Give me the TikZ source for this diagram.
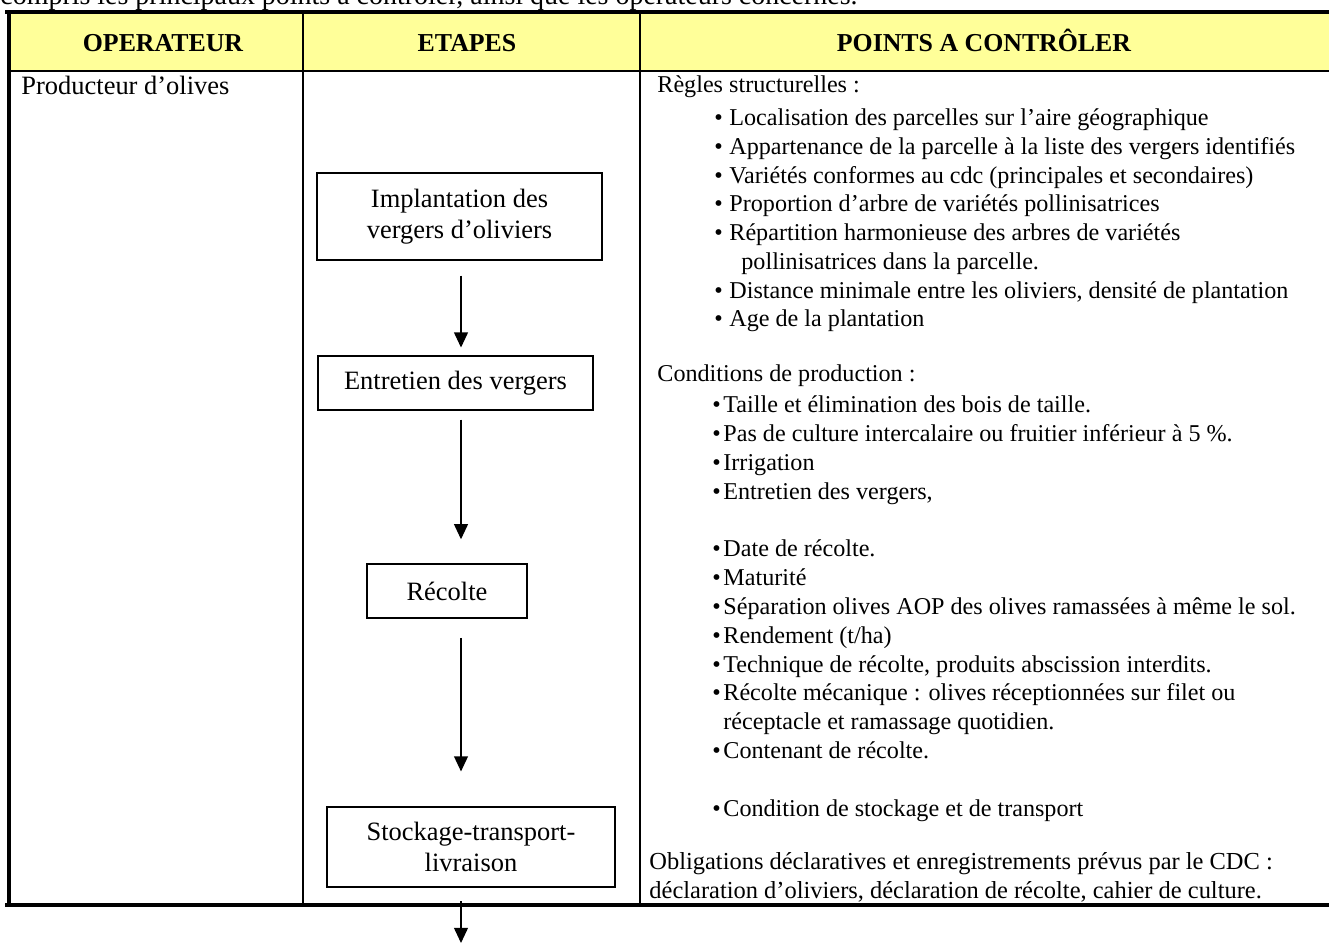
\documentclass[tikz,border=0pt]{standalone}
\usepackage{fontspec}
\setmainfont{Liberation Serif}
\usetikzlibrary{arrows.meta}
\definecolor{entete}{HTML}{FFFF99}
\newlength{\pxu}
\setlength{\pxu}{0.0166cm}
\newcommand{\puce}[1]{\makebox[#1][l]{\textbullet}}

\begin{document}
\begin{tikzpicture}[x=0.0166cm, y=-0.0166cm,
    etape/.style={draw, line width=0.6pt, align=center, inner sep=0pt,
      font=\fontsize{12.5}{14.6}\selectfont},
    fleche/.style={-{Triangle[length=0.25cm, width=0.23cm]}, line width=0.6pt},
    texte/.style={anchor=base west, inner sep=0pt, align=left,
      font=\fontsize{11.4}{13.6}\selectfont},
    titre/.style={anchor=base, inner sep=0pt, font=\bfseries\fontsize{12.2}{14}\selectfont}]
    \useasboundingbox (0,0) rectangle (1329,945);

    \node[anchor=base west, inner sep=0pt, font=\fontsize{13.2}{14}\selectfont] (intro) at (0,5)
      {compris les principaux points à contrôler, ainsi que les opérateurs concernés.};

    % tableau
    \fill[entete] (9,12) rectangle (1329,71);
    \draw[line width=0.8pt] (303,12) -- (303,905) (640,12) -- (640,905);
    \draw[line width=1.2pt] (9,71) -- (1329,71);
    \draw[line width=1.6pt] (5,12) -- (1329,12) (9,12) -- (9,905) (5,905) -- (1329,905);

    \node[titre] (operateur) at (163,52) {OPERATEUR};
    \node[titre] (etapes) at (467,52) {ETAPES};
    \node[titre] (points) at (984,52) {POINTS A CONTRÔLER};

    \node[texte, font=\fontsize{12.5}{14}\selectfont] (producteur) at (21,95) {Producteur d’olives};

    % etapes
    \node[etape, minimum width=285\pxu, minimum height=87\pxu] (impl) at (459.5,216.5)
      {Implantation des\\vergers d’oliviers};
    \node[etape, minimum width=275\pxu, minimum height=54\pxu] (entr) at (455.5,383)
      {Entretien des vergers};
    \node[etape, minimum width=160\pxu, minimum height=54\pxu] (recolte) at (447,591)
      {Récolte};
    \node[etape, minimum width=288\pxu, minimum height=80\pxu] (stock) at (471,847)
      {Stockage-transport-\\livraison};

    \coordinate (axe) at (461,0);
    \coordinate (fin) at (461,943);
    \draw[fleche, shorten <=0.25cm, shorten >=0.13cm] (impl.south -| axe) -- (entr.north -| axe);
    \draw[fleche, shorten <=0.15cm, shorten >=0.4cm] (entr.south -| axe) -- (recolte.north -| axe);
    \draw[fleche, shorten <=0.32cm, shorten >=0.58cm] (recolte.south -| axe) -- (stock.north -| axe);
    \draw[fleche, shorten <=0.23cm] (stock.south -| axe) -- (fin);

    % points a controler
    \node[texte] (regles) at (657,93) {Règles structurelles :};
    \node[texte] (listeA) at (714,327) {%
      \puce{15\pxu}Localisation des parcelles sur l’aire géographique\\
      \puce{15\pxu}Appartenance de la parcelle à la liste des vergers identifiés\\
      \puce{15\pxu}Variétés conformes au cdc (principales et secondaires)\\
      \puce{15\pxu}Proportion d’arbre de variétés pollinisatrices\\
      \puce{15\pxu}Répartition harmonieuse des arbres de variétés\\
      \hspace*{27\pxu}pollinisatrices dans la parcelle.\\
      \puce{15\pxu}Distance minimale entre les oliviers, densité de plantation\\
      \puce{15\pxu}Age de la plantation};
    \node[texte] (conditions) at (657,382) {Conditions de production :};
    \node[texte] (listeB) at (712,816) {%
      \puce{11\pxu}Taille et élimination des bois de taille.\\
      \puce{11\pxu}Pas de culture intercalaire ou fruitier inférieur à 5 \%.\\
      \puce{11\pxu}Irrigation\\
      \puce{11\pxu}Entretien des vergers,\\[13.6pt]
      \puce{11\pxu}Date de récolte.\\
      \puce{11\pxu}Maturité\\
      \puce{11\pxu}Séparation olives AOP des olives ramassées à même le sol.\\
      \puce{11\pxu}Rendement (t/ha)\\
      \puce{11\pxu}Technique de récolte, produits abscission interdits.\\
      \puce{11\pxu}Récolte mécanique : olives réceptionnées sur filet ou\\
      \hspace*{11\pxu}réceptacle et ramassage quotidien.\\
      \puce{11\pxu}Contenant de récolte.\\[13.6pt]
      \puce{11\pxu}Condition de stockage et de transport};
    \node[texte, font=\fontsize{11.55}{13.6}\selectfont] (obligations) at (649,898)
      {Obligations déclaratives et enregistrements prévus par le CDC :\\
       déclaration d’oliviers, déclaration de récolte, cahier de culture.};
\end{tikzpicture}
\end{document}
